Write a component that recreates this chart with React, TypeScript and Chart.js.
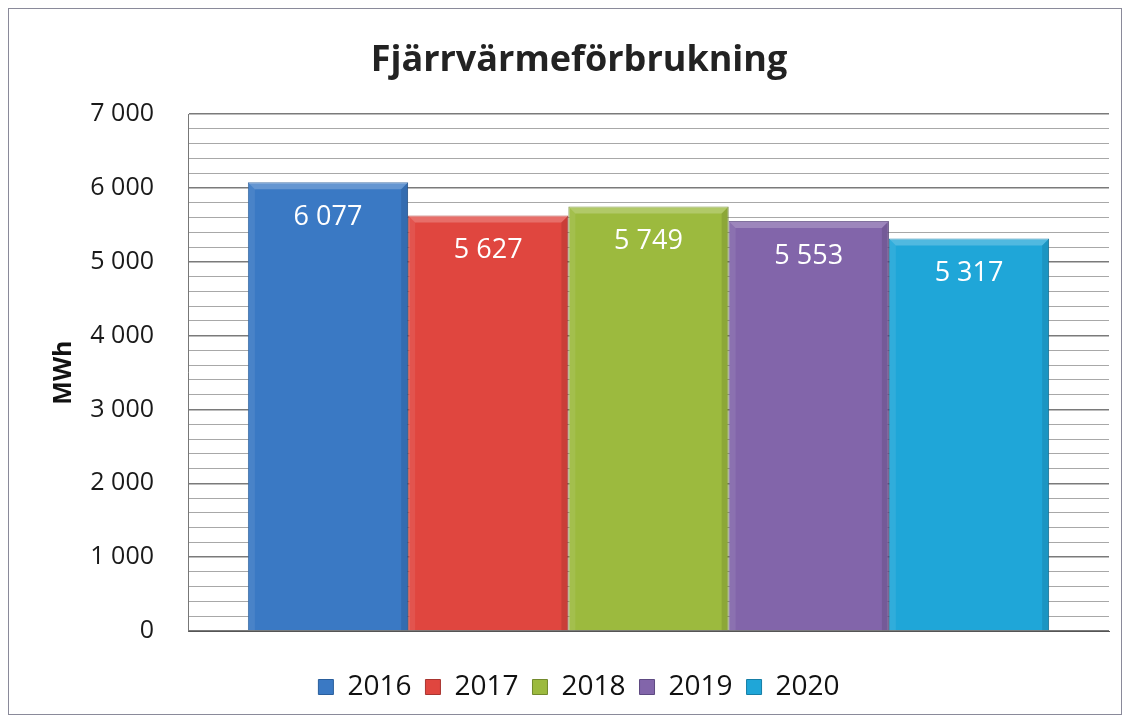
import React, { useEffect, useRef } from "react";
import { Chart, registerables } from "chart.js";

Chart.register(...registerables);

const years = ["2016", "2017", "2018", "2019", "2020"];
const values = [6077, 5627, 5749, 5553, 5317];
const colors = ["#3a79c4", "#e0463f", "#9cba3e", "#8265aa", "#1fa6d8"];
const borders = ["#2a5e9c", "#a83530", "#728a2c", "#5e4a82", "#167ea6"];
const yTicks = [0, 1000, 2000, 3000, 4000, 5000, 6000, 7000];

const FONT = "'Open Sans', sans-serif";

const fmt = (v: number) => {
  const s = String(Math.round(v));
  return s.replace(/\B(?=(\d{3})+(?!\d))/g, " ");
};

const bevelPlugin = {
  id: "bevel",
  afterDatasetsDraw(chart: any) {
    const ctx = chart.ctx;
    const b = 7;
    ctx.save();
    chart.data.datasets.forEach((ds: any, i: number) => {
      const meta = chart.getDatasetMeta(i);
      meta.data.forEach((bar: any) => {
        const l = bar.x - bar.width / 2;
        const r = bar.x + bar.width / 2;
        const t = bar.y;
        const bot = bar.base;
        ctx.fillStyle = "rgba(255,255,255,0.22)";
        ctx.beginPath();
        ctx.moveTo(l, t);
        ctx.lineTo(r, t);
        ctx.lineTo(r - b, t + b);
        ctx.lineTo(l + b, t + b);
        ctx.closePath();
        ctx.fill();
        ctx.fillStyle = "rgba(255,255,255,0.08)";
        ctx.beginPath();
        ctx.moveTo(l, t);
        ctx.lineTo(l + b, t + b);
        ctx.lineTo(l + b, bot);
        ctx.lineTo(l, bot);
        ctx.closePath();
        ctx.fill();
        ctx.fillStyle = "rgba(0,0,0,0.10)";
        ctx.beginPath();
        ctx.moveTo(r, t);
        ctx.lineTo(r - b, t + b);
        ctx.lineTo(r - b, bot);
        ctx.lineTo(r, bot);
        ctx.closePath();
        ctx.fill();
      });
    });
    ctx.restore();
  },
};

const labelPlugin = {
  id: "barLabels",
  afterDatasetsDraw(chart: any) {
    const ctx = chart.ctx;
    ctx.save();
    ctx.font = `27px ${FONT}`;
    ctx.fillStyle = "#ffffff";
    ctx.textAlign = "center";
    ctx.textBaseline = "middle";
    chart.data.datasets.forEach((ds: any, i: number) => {
      const meta = chart.getDatasetMeta(i);
      meta.data.forEach((bar: any, j: number) => {
        ctx.fillText(fmt(ds.data[j]), bar.x, bar.y + 35);
      });
    });
    ctx.restore();
  },
};

export default function App() {
  const ref = useRef<HTMLCanvasElement | null>(null);
  useEffect(() => {
    if (!ref.current) return;
    const chart = new Chart(ref.current, {
      type: "bar",
      data: {
        labels: [""],
        datasets: years.map((y, i) => ({
          label: y,
          data: [values[i]],
          backgroundColor: colors[i],
          borderColor: borders[i],
          borderWidth: 1,
          categoryPercentage: 0.87,
          barPercentage: 1.0,
        })),
      },
      options: {
        animation: false,
        responsive: false,
        maintainAspectRatio: false,
        layout: { padding: { left: 40, right: 12, top: 30, bottom: 3 } },
        plugins: {
          title: {
            display: true,
            text: "Fjärrvärmeförbrukning",
            color: "#222222",
            font: { family: FONT, size: 36, weight: "bold" },
            padding: { top: 0, bottom: 32 },
          },
          legend: {
            position: "bottom",
            labels: {
              color: "#111111",
              font: { family: FONT, size: 28 },
              boxWidth: 15,
              boxHeight: 15,
              padding: 14,
            },
          },
          tooltip: { enabled: false },
        },
        scales: {
          x: {
            grid: { display: false, drawTicks: false },
            border: { display: true, color: "#555555" },
            ticks: { display: false },
            afterFit(scale: any) {
              scale.height = 28;
            },
          },
          y: {
            min: 0,
            max: 7000,
            afterFit(scale: any) {
              scale.width = 139;
            },
            afterBuildTicks(scale: any) {
              const t: any[] = [];
              for (let v = 0; v <= 7000; v += 200) t.push({ value: v });
              scale.ticks = t;
            },
            ticks: {
              color: "#1a1a1a",
              font: { family: FONT, size: 25 },
              padding: 34,
              autoSkip: false,
              callback: (v: any) => (yTicks.includes(Number(v)) ? fmt(Number(v)) : ""),
            },
            grid: {
              drawTicks: false,
              color: (c: any) =>
                c.tick && c.tick.value % 1000 === 0 ? "#7a7a7a" : "#a8a8a8",
              lineWidth: (c: any) => (c.tick && c.tick.value % 1000 === 0 ? 1.5 : 1),
            },
            border: { display: true, color: "#777777" },
            title: {
              display: true,
              text: "MWh",
              color: "#111111",
              font: { family: FONT, size: 25, weight: "bold" },
              padding: { top: 0, bottom: 0 },
            },
          },
        },
      },
      plugins: [bevelPlugin, labelPlugin],
    });
    return () => chart.destroy();
  }, []);
  return (
    <div
      style={{
        width: 1114,
        height: 707,
        boxSizing: "border-box",
        border: "1px solid #8a8a9a",
        background: "#ffffff",
      }}
    >
      <canvas ref={ref} width={1112} height={705} style={{ display: "block" }} />
    </div>
  );
}
